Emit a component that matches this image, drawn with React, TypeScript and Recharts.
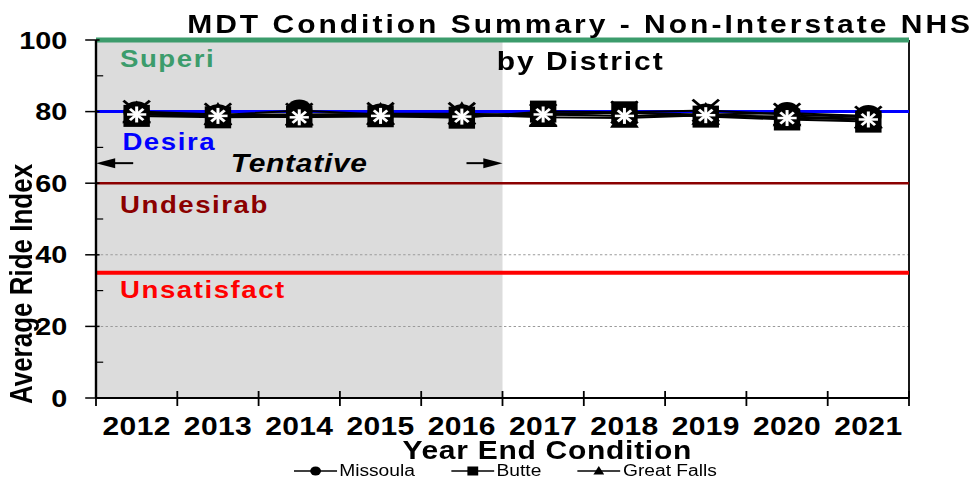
import React from 'react';
import { LineChart, Line, XAxis, YAxis, ReferenceLine, ReferenceArea, Legend } from 'recharts';

// data
const years = ['2012', '2013', '2014', '2015', '2016', '2017', '2018', '2019', '2020', '2021'];
const missoula = [79.8, 79.0, 80.3, 79.2, 79.0, 79.4, 79.6, 79.2, 79.6, 78.8];
const butte = [78.8, 78.4, 78.6, 78.7, 78.3, 80.0, 79.8, 78.6, 77.8, 77.2];
const greatFalls = [79.4, 79.0, 78.8, 79.0, 79.2, 78.4, 78.2, 79.0, 78.6, 78.0];
const glendive = [80.0, 79.2, 79.2, 79.4, 79.4, 79.0, 79.8, 80.3, 79.2, 78.4];
const billings = [79.2, 78.8, 78.4, 78.8, 78.6, 79.2, 78.8, 79.0, 78.2, 77.8];
const seriesNames = ['Missoula', 'Butte', 'Great Falls', 'Glendive', 'Billings'];
const legendNames = ['Missoula', 'Butte', 'Great Falls'];

const yTicks = [0, 10, 20, 30, 40, 50, 60, 70, 80, 90, 100];
const gridValues = [20, 40];
const bandValues = [100, 80, 60, 35];
const bandLabels = ['Superi', 'Desira', 'Undesirab', 'Unsatisfact'];
const tentativeFrom = '2012';
const tentativeTo = '2016';

const bandColors = ['#3c9c6c', '#0000ff', '#8b0000', '#ff0000'];
const bandWidths = [5, 3, 2.5, 4];
const bandDy = [27, 38, 30, 25];

const FONT = "'Liberation Sans', Arial, sans-serif";
const SX = 1.2; // the original image is stretched sideways
const W = 810;
const H = 479;
const M = { top: 40, right: 52.5, left: 0, bottom: 0 };
const Y_W = 80;
const X_H = 81;
const X_GAP = 19;
const BAND_W = (W - M.right - Y_W) / years.length;

const data = years.map((year, i) => ({
  year,
  Missoula: missoula[i],
  Butte: butte[i],
  'Great Falls': greatFalls[i],
  Glendive: glendive[i],
  Billings: billings[i],
}));

const Marker = ({ shape, cx, cy, s }: { shape: string; cx: number; cy: number; s: number }) => {
  if (shape === 'circle') return <circle cx={cx} cy={cy} r={s} fill="#000" />;
  if (shape === 'square') return <rect x={cx - s} y={cy - s} width={s * 2} height={s * 2} fill="#000" />;
  if (shape === 'triangle')
    return <polygon points={`${cx},${cy - s * 1.1} ${cx + s},${cy + s * 0.8} ${cx - s},${cy + s * 0.8}`} fill="#000" />;
  if (shape === 'x')
    return (
      <g stroke="#000" strokeWidth={2.5}>
        <line x1={cx - s} y1={cy - s} x2={cx + s} y2={cy + s} />
        <line x1={cx - s} y1={cy + s} x2={cx + s} y2={cy - s} />
      </g>
    );
  return (
    <g stroke="#fff" strokeWidth={2.5}>
      <line x1={cx - s * 0.7} y1={cy - s * 0.7} x2={cx + s * 0.7} y2={cy + s * 0.7} />
      <line x1={cx - s * 0.7} y1={cy + s * 0.7} x2={cx + s * 0.7} y2={cy - s * 0.7} />
      <line x1={cx} y1={cy - s} x2={cx} y2={cy + s} />
      <line x1={cx - s} y1={cy} x2={cx + s} y2={cy} />
    </g>
  );
};

const shapes = ['circle', 'square', 'triangle', 'x', 'star'];
const sizes = [11, 11, 12, 11, 8];

const dotFor = (i: number) => (props: any) => {
  const { cx, cy, index } = props;
  if (cx == null || cy == null) return <g key={`d-${i}-${index}`} />;
  return (
    <g key={`d-${i}-${index}`}>
      <Marker shape={shapes[i]} cx={cx} cy={cy} s={sizes[i]} />
    </g>
  );
};

const YTick = (props: any) => {
  const { x, y, payload } = props;
  const ax = x + 9 + 15;
  const major = payload.value % 20 === 0;
  return (
    <g>
      {major ? (
        <line x1={ax - 9} x2={ax + 3} y1={y} y2={y} stroke="#000" strokeWidth={1.5} />
      ) : (
        <line x1={ax} x2={ax + 6} y1={y} y2={y} stroke="#000" strokeWidth={1.2} />
      )}
      {major && (
        <text x={x} y={y} dy="0.36em" textAnchor="end" fontSize={24} fontWeight="bold" fill="#000">
          {payload.value}
        </text>
      )}
    </g>
  );
};

const XTick = (props: any) => {
  const { x, y, payload, index } = props;
  const ay = y - X_GAP;
  const last = index === years.length - 1;
  return (
    <g>
      <line x1={x - BAND_W / 2} x2={x - BAND_W / 2} y1={ay - 7} y2={ay + 8} stroke="#000" strokeWidth={1.5} />
      {last && <line x1={x + BAND_W / 2} x2={x + BAND_W / 2} y1={ay - 7} y2={ay + 8} stroke="#000" strokeWidth={1.5} />}
      <text x={x} y={y} dy="0.71em" textAnchor="middle" fontSize={25} fontWeight="bold" fill="#000" letterSpacing={0.3}>
        {payload.value}
      </text>
    </g>
  );
};

const bandLabel = (i: number) => (props: any) => {
  const vb = props.viewBox || {};
  return (
    <text
      x={(vb.x ?? Y_W) + (i === 1 ? 22 : 20)}
      y={(vb.y ?? 0) + bandDy[i]}
      fill={bandColors[i]}
      fontSize={23}
      fontWeight="bold"
      letterSpacing={1.3}
    >
      {bandLabels[i]}
    </text>
  );
};

const tentativeLabel = (props: any) => {
  const { x, y, width, height } = props.viewBox;
  const ay = y + height * 0.344;
  const r = x + width;
  return (
    <g>
      <line x1={x + 10} y1={ay} x2={x + 31} y2={ay} stroke="#000" strokeWidth={2} />
      <polygon points={`${x},${ay} ${x + 16},${ay - 5} ${x + 16},${ay + 5}`} fill="#000" />
      <line x1={r - 30} y1={ay} x2={r - 10} y2={ay} stroke="#000" strokeWidth={2} />
      <polygon points={`${r},${ay} ${r - 16},${ay - 5} ${r - 16},${ay + 5}`} fill="#000" />
      <text x={x + width / 2} y={ay + 9} textAnchor="middle" fontSize={25} fontWeight="bold" fontStyle="italic" fill="#000" letterSpacing={0.6}>
        Tentative
      </text>
    </g>
  );
};

const renderLegend = () => (
  <div
    style={{
      display: 'flex',
      justifyContent: 'center',
      gap: 30,
      paddingLeft: 32,
      fontFamily: FONT,
      fontSize: 16,
      lineHeight: '18px',
      color: '#000',
    }}
  >
    {legendNames.map((n, i) => (
      <div key={n} style={{ display: 'flex', alignItems: 'center' }}>
        <svg width={36} height={14}>
          <line x1={0} y1={7} x2={36} y2={7} stroke="#000" strokeWidth={1.5} />
          <Marker shape={shapes[i]} cx={18} cy={7} s={4.5} />
        </svg>
        <span style={{ marginLeft: 2 }}>{n}</span>
      </div>
    ))}
  </div>
);

export default function App() {
  return (
    <div
      style={{
        position: 'absolute',
        left: 0,
        top: 0,
        width: W,
        height: H,
        transform: `scaleX(${SX})`,
        transformOrigin: '0 0',
        background: '#fff',
        fontFamily: FONT,
      }}
    >
      <LineChart width={W} height={H} data={data} margin={M} style={{ fontFamily: FONT }}>
        <XAxis
          dataKey="year"
          scale="band"
          height={X_H}
          interval={0}
          tickSize={0}
          tickMargin={X_GAP}
          axisLine={{ stroke: '#000', strokeWidth: 2 }}
          tickLine={false}
          tick={<XTick />}
        />
        <YAxis domain={[0, 100]} ticks={yTicks} width={Y_W} tickSize={9} tickMargin={15} tickLine={false} interval={0} tick={<YTick />} axisLine={{ stroke: '#000', strokeWidth: 2 }} />
        <ReferenceArea x1={tentativeFrom} x2={tentativeTo} y1={0} y2={100} fill="#dcdcdc" fillOpacity={1} stroke="none" label={{ content: tentativeLabel }} />
        {gridValues.map((v) => (
          <ReferenceLine key={`g${v}`} y={v} stroke="#9a9a9a" strokeDasharray="2 2" />
        ))}
        <ReferenceLine x={years[years.length - 1]} position="end" stroke="#000" strokeWidth={1.5} />
        {bandValues.map((v, i) => (
          <ReferenceLine key={v} y={v} stroke={bandColors[i]} strokeWidth={bandWidths[i]} label={{ content: bandLabel(i) }} />
        ))}
        {seriesNames.map((n, i) => (
          <Line
            key={n}
            dataKey={n}
            stroke="#000"
            strokeWidth={2}
            dot={dotFor(i)}
            activeDot={false}
            legendType={i < 3 ? 'line' : 'none'}
            isAnimationActive={false}
          />
        ))}
        <Legend verticalAlign="middle" align="center" layout="horizontal" wrapperStyle={{ top: 462, left: 0, width: W }} content={renderLegend} />
      </LineChart>
      <svg width={W} height={H} style={{ position: 'absolute', left: 0, top: 0, pointerEvents: 'none', fontFamily: FONT }}>
        <text x={156} y={33} fontSize={25} fontWeight="bold" fill="#000" letterSpacing={2.5}>
          MDT Condition Summary - Non-Interstate NHS
        </text>
        <text x={414} y={70} fontSize={25} fontWeight="bold" fill="#000" letterSpacing={1.6}>
          by District
        </text>
        <text x={456} y={459} textAnchor="middle" fontSize={25} fontWeight="bold" fill="#000" letterSpacing={0.6}>
          Year End Condition
        </text>
        <text x={18} y={284} transform="rotate(-90 18 284)" textAnchor="middle" dominantBaseline="central" fontSize={26} fontWeight="bold" fill="#000">
          Average Ride Index
        </text>
      </svg>
    </div>
  );
}
